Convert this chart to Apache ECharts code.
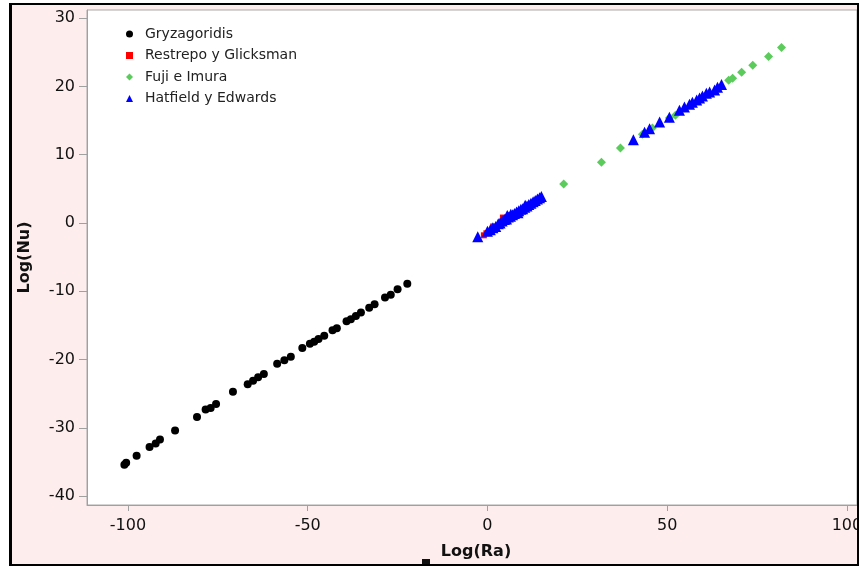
<!DOCTYPE html>
<html>
<head>
<meta charset="utf-8">
<script src="https://cdn.jsdelivr.net/npm/echarts@6/dist/echarts.min.js"></script>
<style>
  body { margin: 0; background: #fff; }
  .frame {
    position: absolute; left: 9px; top: 3px; width: 850px; height: 563px;
    box-sizing: border-box;
  }
  #bg { background: #fdeeed; }
  #border {
    border-top: 2px solid #000; border-bottom: 2px solid #000;
    border-left: 3px solid #000; border-right: 2px solid #000;
    pointer-events: none;
  }
  #chart { position: absolute; left: 0; top: 0; width: 859px; height: 566px; }
</style>
</head>
<body>
<div id="bg" class="frame"></div>
<div id="chart"></div>
<div id="border" class="frame"></div>
<script>
// Gryzagoridis
const gryzX = [-101, -100.5, -97.6, -94, -92.3, -91.1, -86.9, -80.8, -78.4, -77, -75.5, -70.8, -66.7, -65.2, -63.8, -62.2, -58.5, -56.5, -54.7, -51.5, -49.4, -48.2, -47, -45.4, -43.1, -41.9, -39.2, -38, -36.6, -35.2, -32.9, -31.4, -28.5, -26.9, -25, -22.3];
const gryzY = [-35.4, -35.1, -34.1, -32.8, -32.3, -31.7, -30.4, -28.4, -27.3, -27.1, -26.5, -24.7, -23.6, -23.1, -22.6, -22.1, -20.6, -20.1, -19.6, -18.3, -17.7, -17.4, -17.0, -16.5, -15.7, -15.4, -14.4, -14.1, -13.6, -13.1, -12.4, -11.9, -10.9, -10.5, -9.7, -8.9];
// Restrepo y Glicksman
const restX = [-1.0, -0.3, 1.6, 4.3];
const restY = [-1.8, -1.5, -0.5, 0.8];
// Fuji e Imura
const fujiX = [21.2, 31.7, 37, 43.1, 45.9, 50.6, 52.3, 67.1, 68.2, 70.7, 73.8, 78.2, 81.8];
const fujiY = [5.7, 8.9, 11.0, 13.0, 13.9, 15.4, 15.8, 20.9, 21.2, 22.1, 23.1, 24.4, 25.7];
// Hatfield y Edwards
const hatX = [-2.7, 0, 0.8, 1.5, 2.3, 3, 3.5, 4.1, 4.7, 5.3, 5.5, 5.8, 6.4, 6.5, 7, 7.5, 8.1, 8.5, 8.7, 9.3, 9.8, 10.4, 10.5, 11, 11.5, 12.1, 12.7, 13.3, 13.9, 14.5, 15,
  40.6, 43.7, 45.1, 47.9, 50.6, 53.4, 54.8, 56.2, 57, 58.2, 59, 59.8, 60.9, 61.8, 63.2, 64, 65.1];
const hatY = [-2.0, -1.2, -1.0, -0.7, -0.5, -0.1, 0.0, 0.3, 0.5, 0.6, 1.1, 0.9, 1.0, 1.3, 1.2, 1.4, 1.6, 1.5, 1.8, 2.0, 2.1, 2.3, 2.6, 2.5, 2.7, 2.9, 3.1, 3.3, 3.5, 3.7, 3.9,
  12.2, 13.3, 13.8, 14.8, 15.5, 16.5, 17.0, 17.4, 17.7, 18.0, 18.3, 18.6, 19.0, 19.2, 19.5, 19.9, 20.3];
const xTicks = [-100, -50, 0, 50, 100];
const yTicks = [-40, -30, -20, -10, 0, 10, 20, 30];

const pairs = (xs, ys) => xs.map((x, i) => [x, ys[i]]);

const chart = echarts.init(document.getElementById('chart'));
const font = 'DejaVu Sans';
chart.setOption({
  animation: false,
  textStyle: { fontFamily: font },
  grid: {
    left: 87, top: 10, right: 2, bottom: 61, outerBoundsMode: 'none',
    show: true, backgroundColor: '#fff', borderColor: '#a9a9a9', borderWidth: 1
  },
  legend: {
    orient: 'vertical', left: 121, top: 22,
    itemWidth: 7, itemHeight: 7, itemGap: 7.5,
    textStyle: { fontSize: 14, color: '#222', padding: [0, 0, 0, 7] },
    data: ['Gryzagoridis', 'Restrepo y Glicksman', 'Fuji e Imura', 'Hatfield y Edwards']
  },
  xAxis: {
    type: 'value', min: -111.4, max: 102.8,
    name: 'Log(Ra)', nameLocation: 'middle', nameGap: 39,
    nameTextStyle: { fontWeight: 'bold', fontSize: 16, color: '#111', padding: [0, 0, 0, 8] },
    axisLine: { onZero: false, lineStyle: { color: '#a0a0a0' } },
    axisTick: { show: true, length: 6, lineStyle: { color: '#a0a0a0' }, customValues: xTicks },
    axisLabel: { fontSize: 16, color: '#111', margin: 13, customValues: xTicks },
    splitLine: { show: false }
  },
  yAxis: {
    type: 'value', min: -41.3, max: 31.2,
    name: 'Log(Nu)', nameLocation: 'middle', nameGap: 54,
    nameTextStyle: { fontWeight: 'bold', fontSize: 16, color: '#111' },
    axisLine: { show: true, onZero: false, lineStyle: { color: '#a0a0a0' } },
    axisTick: { show: true, length: 8, lineStyle: { color: '#a0a0a0' }, customValues: yTicks },
    axisLabel: { fontSize: 16, color: '#111', margin: 12, customValues: yTicks },
    splitLine: { show: false }
  },
  graphic: [{ type: 'rect', left: 422, top: 559, shape: { width: 8, height: 6 }, style: { fill: '#111' } }],
  series: [
    { name: 'Gryzagoridis', type: 'scatter', symbol: 'circle', symbolSize: 8,
      itemStyle: { color: '#000', opacity: 1 }, data: pairs(gryzX, gryzY) },
    { name: 'Restrepo y Glicksman', type: 'scatter', symbol: 'rect', symbolSize: 6,
      itemStyle: { color: '#ff0000', opacity: 1 }, data: pairs(restX, restY) },
    { name: 'Fuji e Imura', type: 'scatter', symbol: 'diamond', symbolSize: 9,
      itemStyle: { color: '#5bcb5b', opacity: 1 }, data: pairs(fujiX, fujiY) },
    { name: 'Hatfield y Edwards', type: 'scatter', symbol: 'triangle', symbolSize: 11,
      itemStyle: { color: '#0000ff', opacity: 1 }, data: pairs(hatX, hatY) }
  ]
});
</script>
</body>
</html>
